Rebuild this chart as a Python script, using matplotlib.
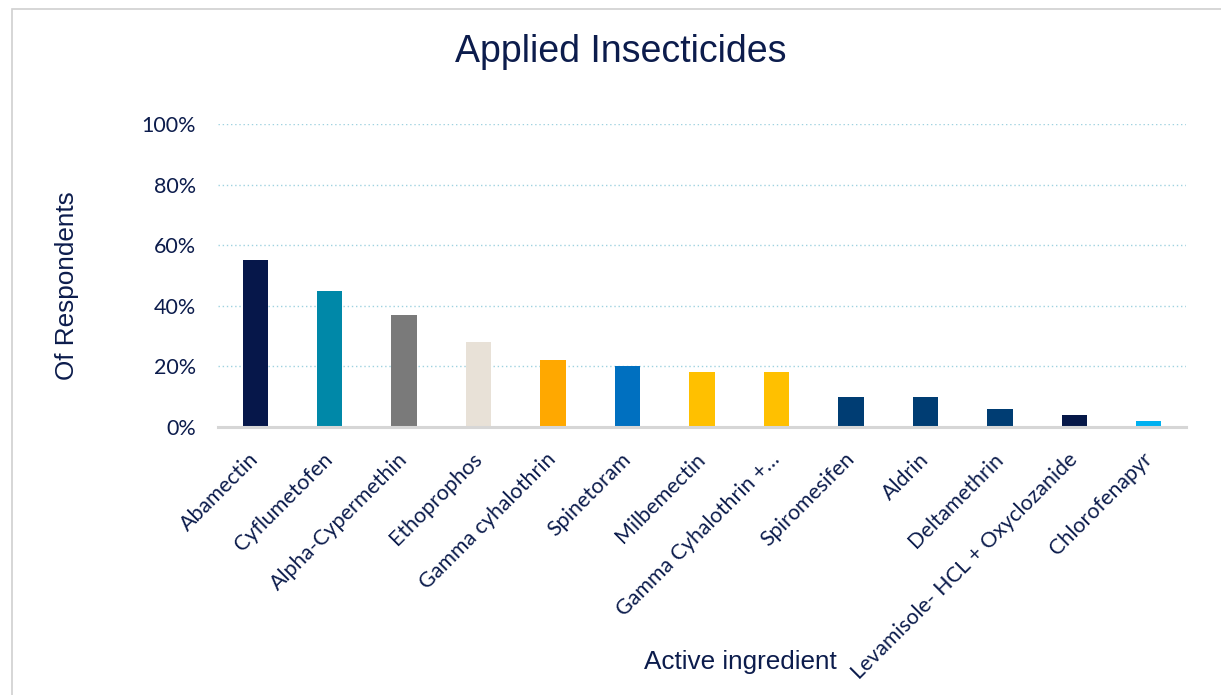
import matplotlib
matplotlib.use("Agg")
import matplotlib.pyplot as plt
from matplotlib.patches import Rectangle
from matplotlib.ticker import PercentFormatter

# Share of respondents applying each active ingredient
ingredients = [
    "Abamectin", "Cyflumetofen", "Alpha-Cypermethin", "Ethoprophos",
    "Gamma cyhalothrin", "Spinetoram", "Milbemectin", "Gamma Cyhalothrin +…",
    "Spiromesifen", "Aldrin", "Deltamethrin",
    "Levamisole- HCL + Oxyclozanide", "Chlorofenapyr",
]
shares = [55, 45, 37, 28, 22, 20, 18, 18, 10, 10, 6, 4, 2]
bar_colors = [
    "#06174A", "#0088A8", "#7A7A7A", "#E8E1D7", "#FFA800", "#0070C0",
    "#FFC000", "#FFC000", "#003D73", "#003D73", "#003D73", "#061848",
    "#00B0F0",
]
y_ticks = [0, 20, 40, 60, 80, 100]

navy = "#0C1C4C"

fig = plt.figure(figsize=(12.21, 6.95), dpi=100)
fig.patch.set_facecolor("white")

# chart-area border
fig.patches.append(Rectangle((12 / 1221, -0.05), 1.2, (695 - 9) / 695 + 0.05,
                             transform=fig.transFigure, fill=False,
                             edgecolor="#D0D0D0", linewidth=1.2))

ax = fig.add_axes([218 / 1221, 268 / 695, 968 / 1221, 303 / 695])
x = range(len(ingredients))
ax.bar(x, shares, width=0.34, color=bar_colors, zorder=3)

ax.set_xlim(-0.5, len(ingredients) - 0.5)
ax.set_ylim(0, 100)
ax.set_yticks(y_ticks)
ax.yaxis.set_major_formatter(PercentFormatter(decimals=0))
ax.set_xticks(list(x))
ax.set_xticklabels(ingredients, rotation=45, ha="right", va="center",
                   rotation_mode="anchor", family="Lato", fontsize=15.4,
                   color=navy)
for lbl in ax.get_yticklabels():
    lbl.set_family("Lato")
    lbl.set_fontsize(15.5)
    lbl.set_color(navy)
ax.tick_params(axis="y", length=0, pad=16)
ax.tick_params(axis="x", length=0, pad=21)

for v in y_ticks[1:]:
    ax.axhline(v, color="#9FD2E0", linestyle=(0, (1, 2)), linewidth=1.0,
               zorder=1)

for side in ("top", "right", "left"):
    ax.spines[side].set_visible(False)
ax.spines["bottom"].set_color("#D6D6D6")
ax.spines["bottom"].set_linewidth(2.2)
ax.spines["bottom"].set_zorder(4)

fig.text(621 / 1221, 1 - 52 / 695, "Applied Insecticides",
         ha="center", va="center", fontsize=27, color=navy,
         family="Liberation Sans")
fig.text(67 / 1221, 1 - 286 / 695, "Of Respondents", rotation=90,
         ha="center", va="center", fontsize=18.8, color=navy,
         family="Liberation Sans")
fig.text(740 / 1221, 1 - 662 / 695, "Active ingredient",
         ha="center", va="center", fontsize=18.8, color=navy,
         family="Liberation Sans")

fig.savefig("out.png", dpi=100, facecolor="white")
